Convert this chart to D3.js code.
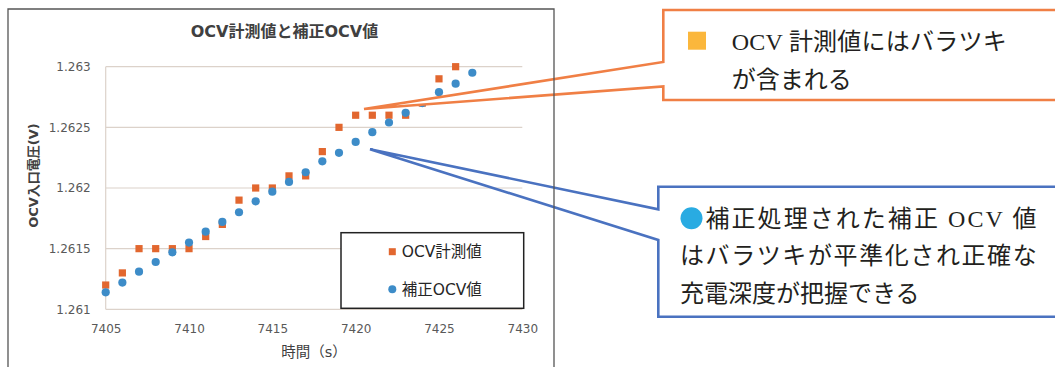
<!DOCTYPE html>
<html>
<head>
<meta charset="utf-8">
<script src="https://cdn.jsdelivr.net/npm/d3@7"></script>
<style>
  body { margin: 0; background: #fff; }
  svg { display: block; }
</style>
</head>
<body>
<div id="chart"></div>
<script>
// Time axis (s) and the two series
const times = [7405, 7406, 7407, 7408, 7409, 7410, 7411, 7412, 7413, 7414, 7415, 7416,
               7417, 7418, 7419, 7420, 7421, 7422, 7423, 7424, 7425, 7426, 7427];
const measuredOcv = [1.2612, 1.2613, 1.2615, 1.2615, 1.2615, 1.2615, 1.2616, 1.2617, 1.2619, 1.262, 1.262,
                     1.2621, 1.2621, 1.2623, 1.2625, 1.2626, 1.2626, 1.2626, 1.2626, 1.2627, 1.2629, 1.263];
const correctedOcv = [1.26114, 1.26122, 1.26131, 1.26139, 1.26147, 1.26155, 1.26164, 1.26172, 1.2618, 1.26189,
                      1.26197, 1.26205, 1.26213, 1.26222, 1.26229, 1.26238, 1.26246, 1.26254, 1.26262, 1.2627,
                      1.26279, 1.26286, 1.26295];
const xTicks = [7405, 7410, 7415, 7420, 7425, 7430];
const yTicks = [1.261, 1.2615, 1.262, 1.2625, 1.263];
const seriesNames = ["OCV計測値", "補正OCV値"];

const chartTitle = "OCV計測値と補正OCV値";
const xTitle = "時間（s）";
const yTitle = "OCV入口電圧(V)";

const noteTop = ["OCV 計測値にはバラツキ", "が含まれる"];
const noteBottom = ["補正処理された補正 OCV 値", "はバラツキが平準化され正確な", "充電深度が把握できる"];

const W = 1055, H = 367;
const plot = { left: 105.7, right: 522.3, top: 66.7, bottom: 309.3 };
const orange = "#e2672f", blue = "#3d8cc8";
const chartFont = "'DejaVu Sans', 'Noto Sans CJK JP', sans-serif";
const noteFont = "'Liberation Serif', 'Noto Sans CJK JP', serif";

const svg = d3.select("#chart").append("svg")
  .attr("width", W)
  .attr("height", H);

const x = d3.scaleLinear().domain([7405, 7430]).range([plot.left, plot.right]);
const y = d3.scaleLinear().domain([1.261, 1.263]).range([plot.bottom, plot.top]);

// gridlines
svg.append("g")
  .selectAll("line")
  .data(yTicks)
  .join("line")
  .attr("x1", plot.left).attr("x2", plot.right)
  .attr("y1", d => y(d)).attr("y2", d => y(d))
  .attr("stroke", "#dcd2ca")
  .attr("stroke-width", 1.2);

svg.append("line")
  .attr("x1", plot.left).attr("x2", plot.left)
  .attr("y1", plot.top).attr("y2", plot.bottom)
  .attr("stroke", "#dcd2ca")
  .attr("stroke-width", 1.2);

// axes (labels only)
const yAxis = svg.append("g")
  .attr("transform", `translate(${plot.left - 15},0)`)
  .call(d3.axisLeft(y).tickValues(yTicks).tickSize(0).tickPadding(0)
    .tickFormat(d => String(+d.toFixed(4))));
const xAxis = svg.append("g")
  .attr("transform", `translate(0,${plot.bottom + 15})`)
  .call(d3.axisBottom(x).tickValues(xTicks).tickSize(0).tickPadding(0)
    .tickFormat(d3.format("d")));

[yAxis, xAxis].forEach(g => {
  g.select(".domain").remove();
  g.selectAll("text")
    .attr("fill", "#595959")
    .style("font-family", chartFont)
    .style("font-size", "12px");
});

// titles
svg.append("text")
  .attr("x", 284.5).attr("y", 37)
  .attr("text-anchor", "middle")
  .attr("fill", "#404040")
  .style("font-family", chartFont)
  .style("font-size", "16px")
  .style("font-weight", "bold")
  .text(chartTitle);

svg.append("text")
  .attr("x", (plot.left + plot.right) / 2).attr("y", 357)
  .attr("text-anchor", "middle")
  .attr("fill", "#404040")
  .style("font-family", chartFont)
  .style("font-size", "14.5px")
  .text(xTitle);

svg.append("text")
  .attr("transform", "translate(37.5,175.5) rotate(-90)")
  .attr("text-anchor", "middle")
  .attr("fill", "#404040")
  .style("font-family", chartFont)
  .style("font-size", "13px")
  .style("font-weight", "bold")
  .text(yTitle);

// measured series (squares)
const sq = 7.2;
svg.append("g")
  .selectAll("rect")
  .data(measuredOcv)
  .join("rect")
  .attr("x", (d, i) => x(times[i]) - sq / 2)
  .attr("y", d => y(d) - sq / 2)
  .attr("width", sq).attr("height", sq)
  .attr("fill", orange);

// corrected series (circles)
svg.append("g")
  .selectAll("circle")
  .data(correctedOcv)
  .join("circle")
  .attr("cx", (d, i) => x(times[i]))
  .attr("cy", d => y(d))
  .attr("r", 4.1)
  .attr("fill", blue);

// legend
const legend = svg.append("g");
legend.append("rect")
  .attr("x", 341).attr("y", 232.7)
  .attr("width", 182.7).attr("height", 75.6)
  .attr("fill", "#fff")
  .attr("stroke", "#222")
  .attr("stroke-width", 1.5);
const legendRows = [251.7, 289.3];
legend.append("rect")
  .attr("x", 392.3 - 3.5).attr("y", legendRows[0] - 3.5)
  .attr("width", 7).attr("height", 7)
  .attr("fill", orange);
legend.append("circle")
  .attr("cx", 392.3).attr("cy", legendRows[1])
  .attr("r", 4)
  .attr("fill", blue);
legend.selectAll("text")
  .data(seriesNames)
  .join("text")
  .attr("x", 401.7)
  .attr("y", (d, i) => legendRows[i])
  .attr("dy", "0.36em")
  .attr("fill", "#262626")
  .style("font-family", chartFont)
  .style("font-size", "15.5px")
  .text(d => d);

// callout boxes
const orangeLine = "#f07f45", blueLine = "#4a72c0";
svg.append("path")
  .attr("d", "M663.3,10 L1060,10 L1060,100 L663.3,100 L663.3,86.5 L364,109 L663.3,62 Z")
  .attr("fill", "#fff")
  .attr("stroke", orangeLine)
  .attr("stroke-width", 2.6)
  .attr("stroke-linejoin", "miter");

svg.append("path")
  .attr("d", "M658.3,186.7 L1060,186.7 L1060,316.7 L658.3,316.7 L658.3,240 L370,149.3 L658.3,209.3 Z")
  .attr("fill", "none")
  .attr("stroke", blueLine)
  .attr("stroke-width", 2.6);

// chart frame on top
svg.append("path")
  .attr("d", "M8,370 L8,9 L554,9 L554,370")
  .attr("fill", "none")
  .attr("stroke", "#555")
  .attr("stroke-width", 1.3);

// callout texts
svg.append("rect")
  .attr("x", 688).attr("y", 31.7)
  .attr("width", 18).attr("height", 18)
  .attr("fill", "#fbb73c");

const noteTopText = svg.append("g")
  .attr("fill", "#231f20")
  .style("font-family", noteFont)
  .style("font-size", "24px");
noteTopText.append("text")
  .attr("x", 731.7).attr("y", 50)
  .attr("textLength", 275).attr("lengthAdjust", "spacing")
  .text(noteTop[0]);
noteTopText.append("text")
  .attr("x", 731.7).attr("y", 87.5)
  .text(noteTop[1]);

svg.append("circle")
  .attr("cx", 691.5).attr("cy", 218.3)
  .attr("r", 11)
  .attr("fill", "#29abe2");

const noteBottomText = svg.append("g")
  .attr("fill", "#231f20")
  .style("font-family", noteFont)
  .style("font-size", "24px");
noteBottomText.append("text")
  .attr("x", 705.5).attr("y", 226.7)
  .attr("textLength", 331).attr("lengthAdjust", "spacing")
  .text(noteBottom[0]);
noteBottomText.append("text")
  .attr("x", 680).attr("y", 264)
  .attr("textLength", 356.7).attr("lengthAdjust", "spacing")
  .text(noteBottom[1]);
noteBottomText.append("text")
  .attr("x", 680).attr("y", 301.5)
  .text(noteBottom[2]);
</script>
</body>
</html>
